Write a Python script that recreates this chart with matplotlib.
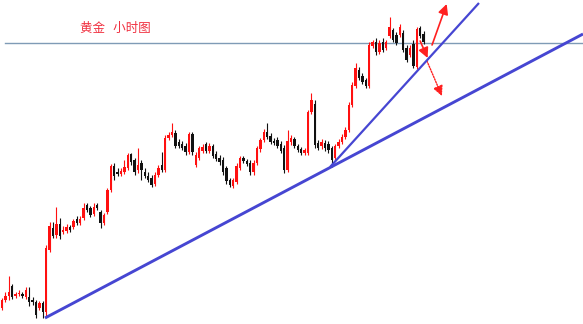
import numpy as np
import matplotlib
matplotlib.use("Agg")
import matplotlib.pyplot as plt

plt.rcParams['font.family'] = ['Noto Sans CJK SC', 'DejaVu Sans']

# hourly candles (price in chart units)
opens = [16, 24, 28, 38, 28, 30, 30, 27, 27, 24, 22, 16, 21, 12, 74, 96, 89, 100, 92, 93,
         97, 97, 105, 101, 106, 119, 116, 110, 119, 112, 101, 112, 134, 158, 152, 150, 152, 156, 170, 164,
         154, 161, 152, 148, 146, 140, 149, 159, 154, 186, 189, 191, 182, 180, 178, 172, 190, 159, 166, 173,
         180, 173, 178, 170, 166, 164, 156, 144, 138, 142, 156, 166, 163, 161, 152, 161, 175, 184, 192, 188,
         183, 184, 180, 176, 154, 182, 185, 178, 175, 171, 171, 212, 220, 181, 178, 181, 180, 176, 166, 178,
         182, 187, 194, 219, 238, 254, 248, 244, 238, 278, 282, 272, 282, 276, 288, 294, 289, 289, 291, 276,
         269, 280, 257, 296, 290]
highs = [26, 32, 48, 40, 32, 34, 32, 37, 37, 27, 24, 23, 23, 79, 102, 102, 117, 106, 98, 100,
         99, 105, 108, 108, 121, 121, 118, 121, 121, 114, 111, 136, 160, 161, 156, 156, 164, 171, 171, 166,
         176, 164, 156, 152, 149, 152, 159, 172, 189, 192, 201, 194, 185, 183, 181, 192, 192, 172, 178, 180,
         182, 181, 180, 173, 169, 167, 158, 146, 146, 161, 168, 168, 165, 164, 164, 178, 186, 195, 201, 191,
         186, 187, 183, 179, 194, 189, 187, 180, 177, 176, 214, 231, 224, 184, 185, 184, 183, 178, 180, 185,
         190, 197, 222, 242, 261, 257, 251, 246, 282, 284, 286, 284, 286, 284, 307, 296, 292, 300, 294, 279,
         279, 284, 297, 298, 293]
lows = [14, 22, 24, 25, 26, 28, 26, 25, 18, 19, 6, 14, 6, 8, 72, 86, 86, 85, 90, 91,
        92, 95, 99, 99, 104, 112, 107, 108, 114, 96, 99, 110, 132, 144, 148, 148, 150, 154, 159, 149,
        151, 144, 146, 142, 137, 138, 147, 152, 152, 184, 187, 176, 176, 174, 169, 170, 169, 157, 164, 171,
        171, 171, 166, 163, 159, 149, 140, 137, 136, 140, 154, 161, 158, 149, 149, 159, 172, 182, 185, 180,
        179, 176, 171, 151, 152, 179, 176, 172, 169, 169, 169, 210, 176, 174, 175, 173, 171, 157, 163, 176,
        180, 185, 192, 217, 236, 244, 240, 236, 236, 276, 269, 270, 272, 274, 286, 282, 279, 287, 272, 262,
        267, 256, 255, 286, 280]
closes = [24, 28, 32, 27, 30, 31, 28, 34, 22, 22, 9, 21, 12, 76, 98, 88, 100, 88, 94, 97,
          94, 103, 101, 105, 116, 114, 109, 117, 116, 101, 109, 134, 158, 148, 150, 153, 157, 169, 162, 152,
          159, 154, 148, 144, 139, 149, 156, 154, 186, 189, 192, 178, 178, 176, 172, 190, 172, 169, 176, 177,
          173, 178, 168, 165, 162, 152, 143, 139, 144, 158, 166, 163, 160, 152, 161, 176, 184, 192, 187, 182,
          181, 178, 173, 154, 183, 186, 178, 174, 171, 174, 212, 224, 179, 176, 182, 176, 174, 164, 178, 182,
          187, 194, 219, 239, 256, 246, 242, 238, 279, 282, 272, 281, 274, 282, 297, 284, 281, 297, 274, 264,
          276, 258, 295, 288, 282]

# trend lines (candle index, price)
trend_low_x = [12.65, 170.9]
trend_low_y = [6, 290]
trend_steep_x = [96.5, 140.3]
trend_steep_y = [157, 321]

resistance = 281
title = "黄金   小时图"

# arrows: (start, end) in (index, price)
arrow_up = ((126.5, 279), (130.8, 320))
arrow_down = ((123.0, 283), (125.2, 266))
arrow_dotted = ((125.0, 263), (129.4, 228))

fig = plt.figure(figsize=(5.83, 3.24), dpi=100)
ax = fig.add_axes([0, 0, 1, 1])
ax.set_xlim(-0.59, 170.9)
ax.set_ylim(0, 324)
ax.axis('off')

ax.axhline(resistance, xmin=0.009, xmax=1, color='#7f9bb6', lw=1.0, zorder=1)

x = np.arange(len(closes))
for i in x:
    o, h, l, c = opens[i], highs[i], lows[i], closes[i]
    col = '#ff1010' if c >= o else '#111111'
    ax.vlines(i, l, h, color=col, lw=0.8, zorder=2)
    ax.bar(i, max(abs(c - o), 1), bottom=min(o, c), width=0.72, color=col,
           edgecolor='none', zorder=3)

ax.plot(trend_low_x, trend_low_y, color='#4646d2', lw=2.1, solid_capstyle='butt', zorder=4)
ax.plot(trend_steep_x, trend_steep_y, color='#4646d2', lw=1.6, solid_capstyle='butt', zorder=4)

# the three red arrows
for a, ls, w in [(arrow_up, '-', 1.2), (arrow_down, '-', 1.2), (arrow_dotted, (0, (1, 1)), 1.0)]:
    ax.annotate('', xy=a[1], xytext=a[0],
                arrowprops=dict(arrowstyle='-|>,head_length=0.5,head_width=0.25', color='#ff2020',
                                lw=w, ls=ls, mutation_scale=12, shrinkA=0, shrinkB=0))

ax.text(22.9, 296, title, color='#f03040', fontsize=9, ha='left', va='center')

fig.savefig('out.png', dpi=100)
